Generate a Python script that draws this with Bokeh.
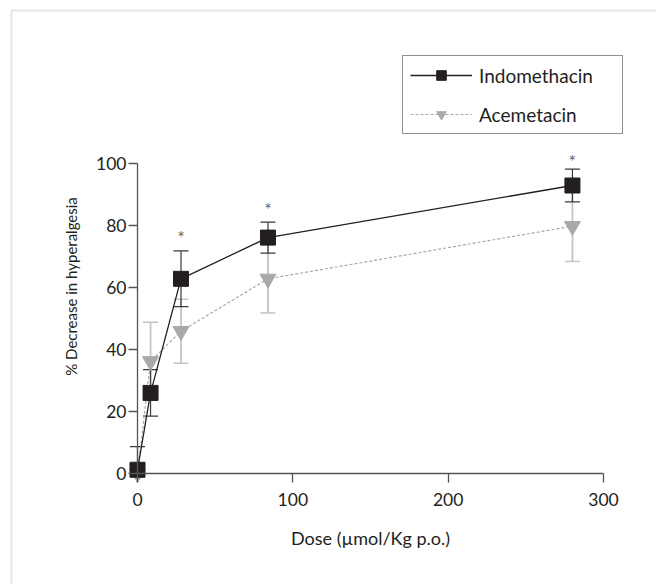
import math
from bokeh.plotting import figure
from bokeh.models import (ColumnDataSource, Whisker, TeeHead, Legend, LegendItem, Label,
                          Range1d, BoxAnnotation)
from bokeh.core.properties import value
from bokeh.embed import file_html
from bokeh.resources import INLINE

# ---- data ----
dose = [0, 8.4, 28, 84, 280]
indo_mean = [1.2, 26.0, 62.8, 76.1, 92.9]
indo_err = [7.5, 7.5, 9.0, 5.0, 5.3]
ace_mean = [0.0, 36.2, 45.9, 62.8, 79.8]
ace_err = [0.0, 12.6, 10.3, 11.0, 11.4]
sig_dose = [28, 84, 280]
sig_y = [76.2, 85.2, 100.8]
x_ticks = [0, 100, 200, 300]
y_ticks = [0, 20, 40, 60, 80, 100]

FONT = "Lato"
W, H = 656, 584
# canvas geometry: the frame fills the whole canvas
X0_PX, X300_PX = 137, 603     # canvas px of dose 0 / 300
Y0_PX, Y100_PX = 473, 163     # canvas px of 0 / 100 %
xs = (X300_PX - X0_PX) / 300.0
ys = (Y0_PX - Y100_PX) / 100.0
x_start = -X0_PX / xs
x_end = (W - X0_PX) / xs
y_start = -(H - Y0_PX) / ys
y_end = 100 + Y100_PX / ys

p = figure(width=W, height=H, output_backend="svg", toolbar_location=None,
           x_range=Range1d(x_start, x_end), y_range=Range1d(y_start, y_end),
           min_border_left=0, min_border_right=0, min_border_top=0, min_border_bottom=0)
p.outline_line_color = None
p.xgrid.visible = False
p.ygrid.visible = False
p.background_fill_color = "white"
p.border_fill_color = "white"

# page frame (left / top edges)
frame_box = BoxAnnotation(left=11, right=W + 20, top=H - 10, bottom=-20,
                          left_units="screen", right_units="screen",
                          top_units="screen", bottom_units="screen",
                          fill_alpha=0, line_color="#a6a6a6", line_width=2, level="underlay")
p.add_layout(frame_box)

indo_lo = [max(m - e, 0) for m, e in zip(indo_mean, indo_err)]
indo_hi = [m + e for m, e in zip(indo_mean, indo_err)]
ace_lo = [max(m - e, 0) for m, e in zip(ace_mean, ace_err)]
ace_hi = [m + e for m, e in zip(ace_mean, ace_err)]

src_i = ColumnDataSource(dict(x=dose, y=indo_mean, lo=indo_lo, hi=indo_hi))
src_a = ColumnDataSource(dict(x=dose, y=ace_mean, lo=ace_lo, hi=ace_hi))

ACE_C = "#a9a9a9"
ACE_EB = "#c4c4c4"
INDO_C = "#231f20"

wa = Whisker(source=src_a, base="x", upper="hi", lower="lo", line_color=ACE_EB, line_width=1.8,
             upper_head=TeeHead(size=15, line_color=ACE_EB, line_width=1.5),
             lower_head=TeeHead(size=15, line_color=ACE_EB, line_width=1.5), level="underlay")
p.add_layout(wa)
wi = Whisker(source=src_i, base="x", upper="hi", lower="lo", line_color="#3a3a3a", line_width=1.2,
             upper_head=TeeHead(size=15, line_color="#3a3a3a", line_width=1.3),
             lower_head=TeeHead(size=15, line_color="#3a3a3a", line_width=1.3), level="underlay")
p.add_layout(wi)

la = p.line("x", "y", source=src_a, line_color=ACE_C, line_width=1.2, line_dash="3 2")
ma = p.scatter("x", "y", source=src_a, marker="inverted_triangle", size=16,
               fill_color=ACE_C, line_color=ACE_C)
li = p.line("x", "y", source=src_i, line_color=INDO_C, line_width=1.3)
mi = p.scatter("x", "y", source=src_i, marker="square", size=15,
               fill_color=INDO_C, line_color=INDO_C)

p.text(x=sig_dose, y=sig_y, text=["*"] * len(sig_dose), text_font=value(FONT),
       text_font_size="18px", text_color="#666666", text_align="center", text_baseline="middle")

# axes
for ax in (p.xaxis[0], p.yaxis[0]):
    ax.axis_line_color = "#555555"
    ax.axis_line_width = 1.3
    ax.major_tick_line_color = "#555555"
    ax.major_tick_line_width = 1.3
    ax.major_tick_out = 9
    ax.major_tick_in = 0
    ax.minor_tick_line_color = None
    ax.major_label_text_font = FONT
    ax.major_label_text_font_size = "17.5px"
    ax.major_label_text_color = "#231f20"
p.xaxis.fixed_location = 0
p.yaxis.fixed_location = 0
p.xaxis.bounds = (0, 300)
p.yaxis.bounds = (0, 100)
p.xaxis.ticker = x_ticks
p.yaxis.ticker = y_ticks
p.xaxis.major_label_standoff = 10
p.yaxis.major_label_standoff = 2
p.xaxis.axis_label = "Dose (µmol/Kg p.o.)"
p.xaxis.axis_label_text_font = FONT
p.xaxis.axis_label_text_font_size = "18px"
p.xaxis.axis_label_text_font_style = "normal"
p.xaxis.axis_label_text_color = "#231f20"
p.xaxis.axis_label_standoff = 18

ylab = Label(x=70, y=H - 286, x_units="screen", y_units="screen",
             text="% Decrease in hyperalgesia", angle=math.pi / 2,
             text_align="center", text_baseline="middle",
             text_font=FONT, text_font_size="15px", text_color="#231f20")
p.add_layout(ylab)

legend = Legend(items=[LegendItem(label="Indomethacin", renderers=[li, mi]),
                       LegendItem(label="Acemetacin", renderers=[la, ma])],
                location=(402, H - 134), padding=7, spacing=15,
                glyph_width=62, glyph_height=24, label_standoff=7, label_width=136,
                label_text_font=FONT, label_text_font_size="19px", label_text_color="#231f20",
                border_line_color="#231f20", border_line_width=1.2,
                background_fill_color="white", background_fill_alpha=1.0, margin=0)
p.add_layout(legend)

open("out.html", "w").write(file_html(p, INLINE))
